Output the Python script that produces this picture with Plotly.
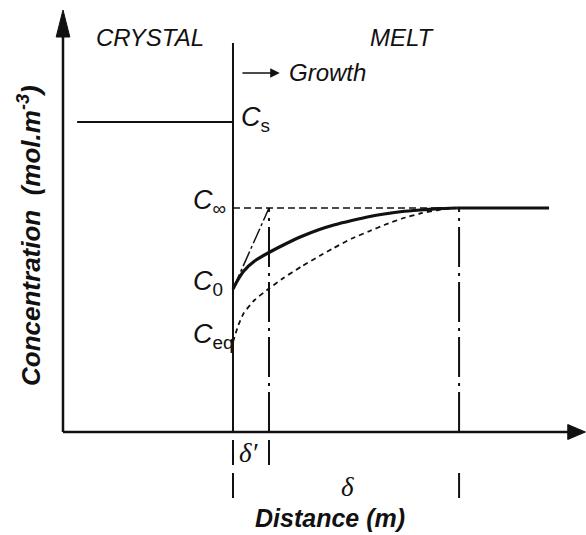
import plotly.graph_objects as go

# Concentration levels (mol.m^-3, arbitrary units)
C_s = 3.10
C_inf = 2.24
C_0 = 1.43
C_eq = 0.90

# Distances (m, arbitrary units); the crystal/melt interface sits at 0
x_crystal_start = -4.33
delta_prime = 1.0
delta = 6.28
x_melt_end = 8.78

# Concentration profiles in the melt ahead of the interface
distance = [0, 0.15, 0.3, 0.6, 1.0, 1.4, 1.9, 2.4, 2.8, 3.3, 3.8, 4.2, 4.7, 5.2, 5.7, 6.2]
conc_profile = [1.43, 1.53, 1.61, 1.71, 1.795, 1.87, 1.955, 2.025, 2.07, 2.115,
                2.155, 2.18, 2.205, 2.22, 2.233, 2.24]
conc_equilibrium = [0.90, 1.07, 1.19, 1.32, 1.435, 1.54, 1.655, 1.76, 1.84, 1.935,
                    2.01, 2.07, 2.135, 2.185, 2.22, 2.24]

# Frame geometry (data units)
X_MIN, X_MAX = -6.472, 9.806
Y_MIN, Y_MAX = -1.03, 4.32
AXIS_X = -4.722
INTERFACE_TOP = 3.89

SANS = "Arial, Liberation Sans, sans-serif"
SERIF = "Times New Roman, Liberation Serif, serif"
BLACK = "#111111"

fig = go.Figure()


def seg(x, y, width=2, dash="solid", shape="linear"):
    fig.add_trace(go.Scatter(
        x=x, y=y, mode="lines", hoverinfo="skip", showlegend=False,
        line=dict(color=BLACK, width=width, dash=dash, shape=shape, smoothing=0.5),
    ))


# Solid-phase concentration
seg([x_crystal_start, 0], [C_s, C_s], width=2)
# Interface
seg([0, 0], [0, INTERFACE_TOP], width=2)
# Bulk melt level (dashed) and beyond the boundary layer (solid)
seg([0, distance[-1]], [C_inf, C_inf], width=1.5, dash="7px,4px")
seg([distance[-1], x_melt_end], [C_inf, C_inf], width=3)
# Equilibrium profile
seg(distance, conc_equilibrium, width=1.8, dash="5px,4px", shape="spline")
# Actual profile
seg(distance, conc_profile, width=3.2, shape="spline")
# Tangent at the interface
seg([0, delta_prime], [C_0, C_inf], width=1.5, dash="16px,3px,3px,3px")
# Boundary-layer widths
seg([delta_prime, delta_prime], [0, C_inf], width=2, dash="40px,6px,3px,6px")
seg([delta, delta], [0, C_inf], width=2, dash="40px,6px,3px,6px")

shapes = []
line_style = dict(color=BLACK, width=2)
# Axes with arrowheads
shapes.append(dict(type="line", x0=AXIS_X, x1=AXIS_X, y0=0, y1=3.96, line=dict(color=BLACK, width=2.5)))
shapes.append(dict(type="line", x0=AXIS_X, x1=9.32, y0=0, y1=0, line=dict(color=BLACK, width=2.5)))
shapes.append(dict(type="path",
                   path=f"M {AXIS_X} 4.22 L {AXIS_X - 0.19} 3.95 L {AXIS_X + 0.19} 3.95 Z",
                   fillcolor=BLACK, line=dict(color=BLACK, width=1)))
shapes.append(dict(type="path",
                   path="M 9.79 0 L 9.30 0.075 L 9.30 -0.075 Z",
                   fillcolor=BLACK, line=dict(color=BLACK, width=1)))
# Width markers below the distance axis
for xv in (0, delta_prime):
    shapes.append(dict(type="line", x0=xv, x1=xv, y0=-0.08, y1=-0.33, line=line_style))
for xv in (0, delta):
    shapes.append(dict(type="line", x0=xv, x1=xv, y0=-0.41, y1=-0.66, line=line_style))

annotations = [
    dict(x=-2.31, y=3.95, text="<i>CRYSTAL</i>", font=dict(family=SANS, size=24, color=BLACK)),
    dict(x=4.72, y=3.95, text="<i>MELT</i>", font=dict(family=SANS, size=24, color=BLACK)),
    dict(x=1.50, y=3.60, text="<i>Growth</i>", xanchor="left",
         font=dict(family=SANS, size=24, color=BLACK)),
    dict(x=1.30, y=3.59, ax=0.22, ay=3.59, axref="x", ayref="y", text="",
         showarrow=True, arrowhead=2, arrowsize=1.2, arrowwidth=1.6, arrowcolor=BLACK),
    dict(x=0.17, y=3.10, text="<i>C</i><sub>s</sub>", xanchor="left", yanchor="top", yshift=22,
         font=dict(family=SANS, size=27, color=BLACK)),
    dict(x=-1.16, y=C_inf, text="<i>C</i><sub>∞</sub>", xanchor="left", yanchor="top", yshift=25,
         font=dict(family=SANS, size=27, color=BLACK)),
    dict(x=-1.16, y=C_0, text="<i>C</i><sub>0</sub>", xanchor="left", yanchor="top", yshift=25,
         font=dict(family=SANS, size=27, color=BLACK)),
    dict(x=-1.16, y=C_eq, text="<i>C</i><sub>eq</sub>", xanchor="left", yanchor="top", yshift=25,
         font=dict(family=SANS, size=27, color=BLACK)),
    dict(x=-5.667, y=1.97, text="<b><i>Concentration  (mol.m<sup>-3</sup>)</i></b>", textangle=-90,
         font=dict(family=SANS, size=26, color=BLACK)),
    dict(x=2.69, y=-0.86, text="<b><i>Distance (m)</i></b>", font=dict(family=SANS, size=25, color=BLACK)),
    dict(x=0.45, y=-0.21, text="<i>δ′</i>", font=dict(family=SERIF, size=27, color=BLACK)),
    dict(x=3.17, y=-0.55, text="<i>δ</i>", font=dict(family=SERIF, size=27, color=BLACK)),
]
for a in annotations:
    a.setdefault("showarrow", False)
    a.setdefault("xref", "x")
    a.setdefault("yref", "y")

fig.update_layout(
    width=586, height=535,
    margin=dict(l=0, r=0, t=0, b=0),
    paper_bgcolor="white", plot_bgcolor="white",
    xaxis=dict(range=[X_MIN, X_MAX], visible=False, fixedrange=True),
    yaxis=dict(range=[Y_MIN, Y_MAX], visible=False, fixedrange=True),
    shapes=shapes, annotations=annotations,
    showlegend=False, hovermode=False,
)

fig.write_html("out.html", config={"displayModeBar": False})
